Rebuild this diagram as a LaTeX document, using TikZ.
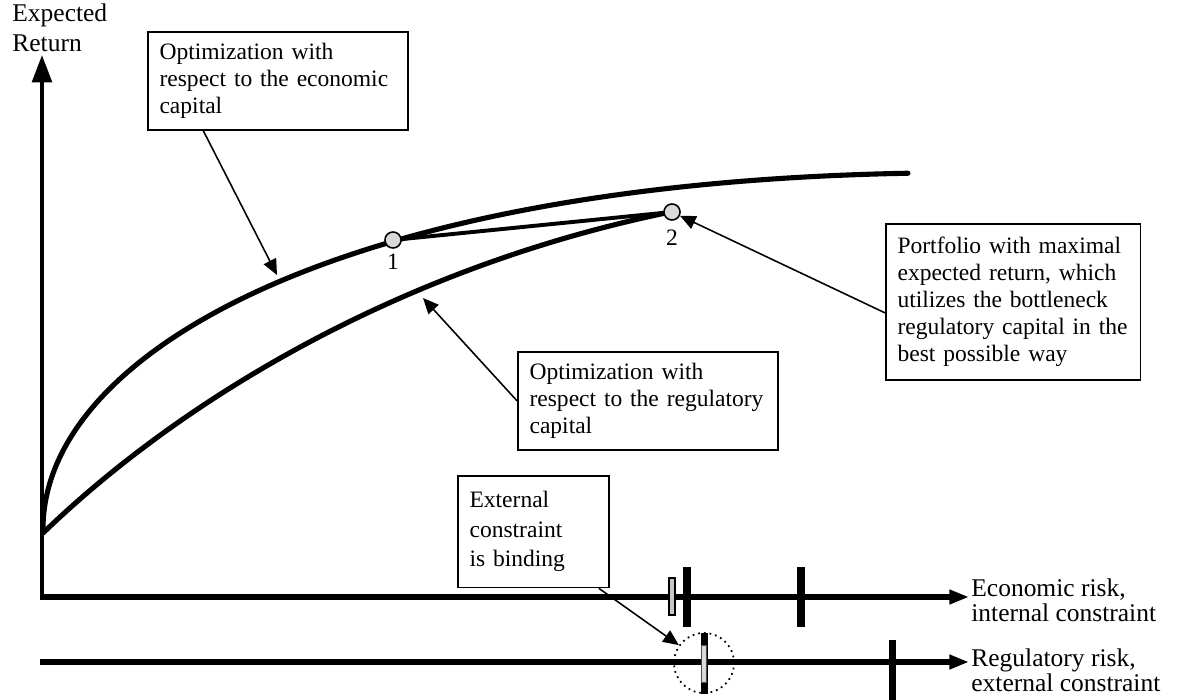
\documentclass[tikz,border=0pt]{standalone}
\usepackage{fontspec}
\setmainfont{Liberation Serif}
\usepackage{tikz}
\usetikzlibrary{arrows.meta,calc,positioning}
\tikzset{%
	textbox/.style  = {draw, rectangle, line width=0.8pt, align=left, inner xsep=6pt, inner ysep=4pt, font=\fontsize{12}{13.8}\selectfont}, % Comment
	dot/.style      = {draw, circle, fill=gray!30, line width=0.8pt, minimum size=8.2pt, inner sep=0pt}, % Portfolio
	axis/.style     = {line width=2.8pt, -{Triangle[length=10pt,width=7pt]}}, % Risk axis
	pointer/.style  = {line width=0.8pt, -{Triangle[length=8pt,width=7pt]}}, % Arrow from a comment
	frontier/.style = {line width=2.6pt, line cap=round, line join=round}, % Efficient frontier
	axislabel/.style = {align=left, inner sep=1pt, font=\fontsize{13}{12.8}\selectfont}, % Axis text
	waypoint/.style = {coordinate},
}

\begin{document}
\begin{tikzpicture}[x=0.51pt, y=-0.51pt]
	\useasboundingbox (0,0) rectangle (1181,700);
	% axes
	\coordinate (o) at (42,599);
	\coordinate (ytop) at (42,55);
	\coordinate (e0) at (40,597);
	\coordinate (r0) at (40,662);
	\node[axislabel, anchor=north west, inner sep=0pt, font=\fontsize{13}{15.3}\selectfont] (ret) at (12,3) {Expected\\Return};
	\node[axislabel, anchor=west] (econ) at (969,600) {Economic risk,\\internal constraint};
	\node[axislabel, anchor=west] (reg) at (969,670) {Regulatory risk,\\external constraint};
	\draw[line width=2pt, -{Triangle[length=14pt,width=10pt]}] (o) -- (ytop);
	\draw[axis] (e0) -- (e0 -| econ.west);
	\draw[axis] (r0) -- (r0 -| reg.west);
	% limits on the axes
	\fill (682.5,567) rectangle (690.5,627);
	\fill (797,567) rectangle (805,627);
	\filldraw[fill=gray!45, line width=0.6pt] (669,578) rectangle (675,615);
	\fill (888.5,640) rectangle (895.5,700);
	\fill (700.5,633) rectangle (707.5,694);
	\filldraw[fill=gray!30, draw=black!70, line width=0.4pt] (701.8,645) rectangle (706.2,682);
	\node[draw, circle, dotted, line width=0.9pt, minimum size=30.6pt] (bind) at (704,663) {};
	% frontiers
	\draw[frontier] plot[domain=0:29.41, samples=160, variable=\s] ({43+\s*\s}, {529-\s*(17.6-0.00636*\s*\s)});
	\draw[frontier] plot[domain=0:629, samples=120, variable=\d] ({43+\d}, {533-0.5*(255.4*ln(1+\d/250)+0.9046*\d-0.000627*\d*\d)});
	\draw[line width=2pt] (393,240) -- (672,212);
	\node[dot] (pt1) at (393,240) {};
	\node[dot] (pt2) at (672,212) {};
	\node[below of=pt1, node distance=11.2pt, font=\fontsize{12}{13.8}\selectfont] (n1) {1};
	\node[below of=pt2, node distance=13.3pt, font=\fontsize{12}{13.8}\selectfont] (n2) {2};
	% comments
	\node[textbox, anchor=north west, text width=120.6pt, minimum height=50pt] (econbox) at (147,31) {Optimization with\\respect to the economic\\capital};
	\node[textbox, anchor=north west, text width=118pt, minimum height=79.6pt] (bestbox) at (885,223) {Portfolio with maximal\\expected return, which\\utilizes the bottleneck\\regulatory capital in the\\best possible way};
	\node[textbox, anchor=north west, text width=120.6pt, minimum height=50pt] (regbox) at (517,351) {Optimization with\\respect to the regulatory\\capital};
	\node[textbox, anchor=north west, text width=65pt, minimum height=57pt, font=\fontsize{12}{15}\selectfont] (bindbox) at (457,475) {External\\constraint\\is binding};
	\node[waypoint] (econtip) at (277,275) {};
	\node[waypoint] (regtip) at (423,298) {};
	\draw[pointer] ($(econbox.south west)!0.215!(econbox.south east)$) -- (econtip);
	\draw[pointer] (regbox.west) -- (regtip);
	\draw[pointer] ($(bestbox.north west)!0.57!(bestbox.south west)$) -- (pt2);
	\draw[pointer] ($(bindbox.south west)!0.93!(bindbox.south east)$) -- (bind);
\end{tikzpicture}
\end{document}
